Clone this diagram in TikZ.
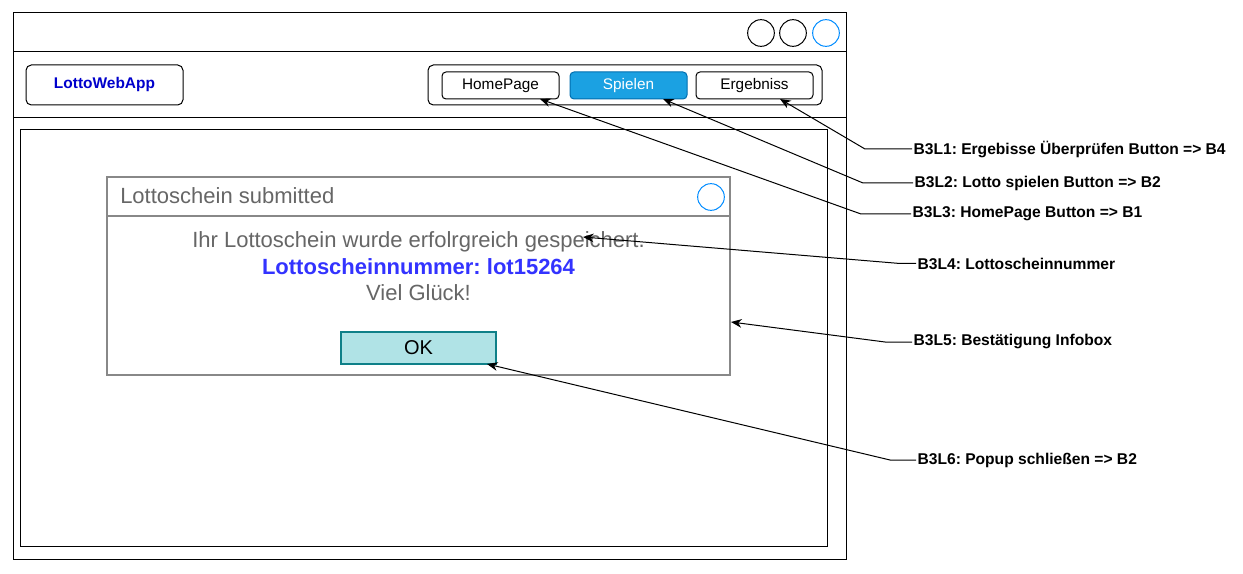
\documentclass[tikz,border=0pt]{standalone}
\usepackage{fontspec}
\setmainfont{Liberation Sans}
\usetikzlibrary{fit,arrows.meta}
\frenchspacing
\definecolor{navblue}{HTML}{1BA1E2}
\definecolor{navblueline}{HTML}{006EAF}
\definecolor{closeblue}{HTML}{008CFF}
\definecolor{txtgray}{HTML}{666666}
\definecolor{boxgray}{HTML}{888888}
\definecolor{numblue}{HTML}{3333FF}
\definecolor{appblue}{HTML}{0000CC}
\definecolor{okfill}{HTML}{B0E3E6}
\definecolor{okline}{HTML}{0E8088}
\begin{document}
\begin{tikzpicture}[x=0.75pt,y=-0.75pt,
  frame/.style={draw=black, line width=0.75pt, inner sep=0pt, outer sep=0pt},
  rbox/.style={frame, rounded corners=4pt},
  navbtn/.style={rbox, rounded corners=3pt},
  navtxt/.style={inner sep=0pt, font=\fontsize{11.5}{13}\selectfont},
  winbtn/.style={circle, draw=black, line width=0.75pt, minimum size=20pt, inner sep=0pt},
  bluebtn/.style={circle, draw=closeblue, line width=0.75pt, minimum size=20pt, inner sep=0pt},
  lbl/.style={anchor=west, inner sep=1pt, font=\bfseries\fontsize{11.7}{14}\selectfont},
  conn/.style={draw=black, line width=0.75pt, -{Stealth[length=8pt,width=6.5pt,inset=2.5pt]}}
]
\useasboundingbox (0,0) rectangle (1243,574);
\fill[white] (0,0) rectangle (1243,574);

% window
\node[frame, fit={(13,13) (846,559)}] (win) {};
\node[frame, fit={(13,13) (846,52)}] (titlebar) {};
\node[frame, fit={(13,52) (846,118)}] (navbar) {};
\node[winbtn] (c1) at (761,33) {};
\node[winbtn] (c2) at (793,33) {};
\node[bluebtn] (c3) at (826,33) {};

% app button
\node[rbox, fit={(26,65) (183,105)},
  label={[inner sep=0pt, text=appblue, font=\bfseries\fontsize{11.6}{13}\selectfont]center:LottoWebApp}] (app) {};

% nav container and buttons
\node[rbox, fit={(428,65) (822,105)}] (nav) {};
\node[navbtn, fit={(442,72) (559,99)}, label={[navtxt]center:HomePage}] (home) {};
\node[navbtn, fit={(570,72) (687,99)}, draw=navblueline, fill=navblue, label={[navtxt, text=white]center:Spielen}] (spielen) {};
\node[navbtn, fit={(696,72) (813,99)}, label={[navtxt]center:Ergebniss}] (erg) {};

% content
\node[frame, fit={(20,130) (827,546)}] (content) {};

% popup
\node[draw=boxgray, line width=1.1pt, inner sep=0pt, fill=white, fit={(107,177) (730,375)}] (popup) {};
\draw[boxgray, line width=1.1pt] (popup.west |- 0,216) -- (popup.east |- 0,216);
\node[anchor=west, inner sep=0pt, text=txtgray, font=\fontsize{16.5}{19}\selectfont] (ptitle) at (120,196) {Lottoschein submitted};
\node[bluebtn] (pclose) at (711,197) {};
\node[align=center, inner sep=0pt, text=txtgray, font=\fontsize{16.5}{19.9}\selectfont] (pbody) at (418.5,266.5)
  {Ihr Lottoschein wurde erfolrgreich gespeichert.\\
   {\bfseries\color{numblue}Lottoscheinnummer: lot15264}\\
   Viel Glück!};
\node[draw=okline, line width=0.8pt, fill=okfill, inner sep=0pt, fit={(341,332) (496,364)},
  label={[inner sep=0pt, font=\fontsize{15}{17}\selectfont]center:OK}] (ok) {};

% labels
\node[lbl] (l1) at (912,149) {B3L1: Ergebisse Überprüfen Button => B4};
\node[lbl] (l2) at (913,183) {B3L2: Lotto spielen Button => B2};
\node[lbl] (l3) at (911,214) {B3L3: HomePage Button => B1};
\node[lbl] (l4) at (916,263.5) {B3L4: Lottoscheinnummer};
\node[lbl] (l5) at (912,342) {B3L5: Bestätigung Infobox};
\node[lbl] (l6) at (916,460) {B3L6: Popup schließen => B2};

% elbow points and targets
\coordinate (e1) at (865,149);
\coordinate (e2) at (863,183);
\coordinate (e3) at (861,214);
\coordinate (e4) at (900,263.5);
\coordinate (e5) at (885,342);
\coordinate (e6) at (890,460);
\coordinate (t1) at (780,99);
\coordinate (t2) at (663,99);
\coordinate (t3) at (540,99);
\coordinate (t4) at (583,237);
\coordinate (t5) at (731,322);
\coordinate (t6) at (487,364);

\draw[conn] (l1.west) -- (e1) -- (t1);
\draw[conn] (l2.west) -- (e2) -- (t2);
\draw[conn] (l3.west) -- (e3) -- (t3);
\draw[conn] (l4.west) -- (e4) -- (t4);
\draw[conn] (l5.west) -- (e5) -- (t5);
\draw[conn] (l6.west) -- (e6) -- (t6);
\end{tikzpicture}
\end{document}
